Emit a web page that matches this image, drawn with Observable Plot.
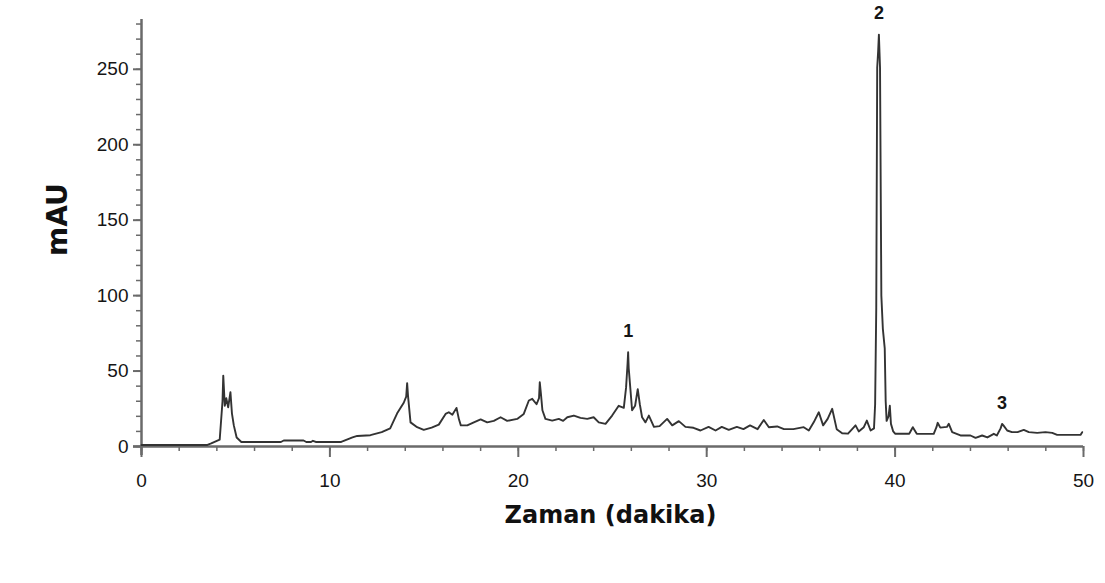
<!DOCTYPE html>
<html>
<head>
<meta charset="utf-8">
<script src="https://cdn.jsdelivr.net/npm/d3@7"></script>
<script src="https://cdn.jsdelivr.net/npm/@observablehq/plot@0.6"></script>
<style>
  html, body { margin: 0; padding: 0; background: #fff; }
</style>
</head>
<body>
<div id="chart"></div>
<script>
// Retention time (minutes)
const times = [0, 3.5, 3.7, 4.15, 4.3, 4.34, 4.42, 4.5, 4.6, 4.72, 4.8, 4.9, 5.05, 5.3, 7.4, 7.55, 8.6, 8.75, 9.0, 9.1, 9.25, 10.6, 10.9, 11.2, 11.45, 12.15, 12.75, 13.2, 13.57, 13.92, 14.05, 14.1, 14.15, 14.28, 14.63, 14.98, 15.4, 15.78, 16.14, 16.31, 16.5, 16.72, 16.85, 16.95, 17.29, 17.64, 18.0, 18.35, 18.7, 19.06, 19.41, 19.94, 20.29, 20.56, 20.74, 20.97, 21.1, 21.14, 21.2, 21.28, 21.44, 21.8, 22.15, 22.38, 22.6, 22.95, 23.3, 23.66, 24.0, 24.27, 24.63, 24.98, 25.33, 25.6, 25.72, 25.8, 25.83, 25.86, 25.95, 26.04, 26.2, 26.34, 26.45, 26.57, 26.75, 26.93, 27.2, 27.5, 27.9, 28.17, 28.52, 28.87, 29.3, 29.67, 30.1, 30.47, 30.8, 31.17, 31.6, 31.95, 32.3, 32.7, 33.03, 33.3, 33.74, 34.1, 34.6, 35.15, 35.42, 35.68, 35.95, 36.18, 36.42, 36.66, 36.9, 37.19, 37.5, 37.72, 37.9, 38.07, 38.34, 38.5, 38.7, 38.88, 38.94, 39.0, 39.05, 39.1, 39.14, 39.2, 39.27, 39.35, 39.45, 39.5, 39.55, 39.65, 39.72, 39.78, 39.9, 40.0, 40.75, 40.94, 41.15, 42.05, 42.2, 42.26, 42.4, 42.75, 42.85, 43.03, 43.47, 44.0, 44.27, 44.62, 44.9, 45.24, 45.4, 45.6, 45.68, 45.75, 45.95, 46.2, 46.5, 46.83, 47.1, 47.54, 47.98, 48.34, 48.6, 49.84, 49.93];
// Absorbance (mAU)
const absorbance = [1, 1, 2, 4.5, 30, 47, 27, 32, 26, 36, 22, 14, 6, 3, 3, 4, 4, 3, 3, 3.8, 3, 3, 4.5, 6, 7, 7.5, 9.5, 12, 22, 29, 33, 42, 33, 16, 12.8, 11, 12.5, 14.5, 21.6, 22.7, 21, 25.6, 18, 14, 14, 16, 18, 16, 17, 19.4, 17, 18.3, 21.6, 30.5, 31.6, 28, 32, 42.6, 35, 24, 18.3, 17.2, 18.3, 17, 19.4, 20.5, 19, 18.3, 19.4, 16, 15, 20.5, 27, 25.6, 39, 55, 62.5, 52, 38, 24, 27, 38, 28, 19.4, 16, 20.5, 13, 13.5, 18.3, 14, 16.8, 13, 12.4, 10.6, 13, 10.6, 13, 11, 13, 11.5, 14, 11.5, 17.6, 12.8, 13.3, 11.5, 11.5, 12.8, 10.6, 16, 22.7, 14, 18.3, 25, 11.5, 8.8, 8.5, 11.5, 14, 10, 12.8, 17.2, 10.6, 12, 28, 92, 251, 262, 273, 251, 100, 78, 65, 30, 17, 20, 27, 15, 10, 8.5, 8.5, 12.8, 8.4, 8.4, 13, 15.7, 12.5, 13, 15, 9.5, 7.3, 7.3, 5.7, 7.3, 6, 8.4, 7.3, 12, 15, 14, 10.6, 9.5, 9.5, 11, 9.5, 9, 9.5, 9, 7.7, 7.7, 9.5];

// Labelled peaks
const peakLabels = ["1", "2", "3"];
const peakTimes = [25.83, 39.14, 45.68];
const peakValues = [62.5, 273, 15];

// Ticks
const xMajorTicks = [0, 10, 20, 30, 40, 50];
const xMinorTicks = [0, 2, 4, 6, 8, 10, 12, 14, 16, 18, 20, 22, 24, 26, 28, 30, 32, 34, 36, 38, 40, 42, 44, 46, 48, 50];
const yMajorTicks = [0, 50, 100, 150, 200, 250];
const yMinorTicks = [0, 10, 20, 30, 40, 50, 60, 70, 80, 90, 100, 110, 120, 130, 140, 150, 160, 170, 180, 190, 200, 210, 220, 230, 240, 250, 260, 270, 280];

const xTitle = "Zaman (dakika)";
const yTitle = "mAU";

const data = times.map((t, i) => ({t, v: absorbance[i]}));
const peaks = peakLabels.map((l, i) => ({label: l, t: peakTimes[i], v: peakValues[i]}));

const axisGray = "#6a6a6a";
const tickFont = "'Liberation Sans', Arial, sans-serif";

const chart = Plot.plot({
  width: 1105,
  height: 583,
  marginLeft: 141,
  marginRight: 22,
  marginTop: 19,
  marginBottom: 137,
  x: {domain: [0, 50]},
  y: {domain: [0, 283]},
  style: {background: "#fff", fontFamily: tickFont},
  marks: [
    // minor ticks
    Plot.axisX({ticks: xMinorTicks, tickSize: 5, tickFormat: () => "", stroke: axisGray, strokeWidth: 1.5, label: null}),
    Plot.axisY({ticks: yMinorTicks, tickSize: 5, tickFormat: () => "", stroke: axisGray, strokeWidth: 1.5, label: null}),
    // major ticks with labels
    Plot.axisX({ticks: xMajorTicks, tickSize: 11, tickPadding: 16, stroke: axisGray, strokeWidth: 2, fill: "#151515", fontSize: 19, label: null}),
    Plot.axisY({ticks: yMajorTicks, tickSize: 8, tickPadding: 5, stroke: axisGray, strokeWidth: 2, fill: "#151515", fontSize: 19, label: null}),
    // axis lines
    Plot.ruleX([0], {stroke: axisGray, strokeWidth: 2.5, insetBottom: -9}),
    Plot.ruleY([0], {stroke: axisGray, strokeWidth: 2.5, insetLeft: -8}),
    // chromatogram trace
    Plot.line(data, {x: "t", y: "v", stroke: "#333", strokeWidth: 1.9, strokeLinejoin: "round"}),
    // peak labels
    Plot.text(peaks, {x: "t", y: "v", text: "label", dy: -21, fontSize: 18, fontWeight: "bold", fill: "#151515"}),
    // axis titles
    Plot.text([xTitle], {frameAnchor: "bottom", dy: 76, dx: -2, fontSize: 24, fontWeight: "bold", fontFamily: "'DejaVu Sans', sans-serif", fill: "#111"}),
    Plot.text([yTitle], {frameAnchor: "left", rotate: -90, dx: -83, dy: 23, fontSize: 28, fontWeight: "bold", fontFamily: "'DejaVu Sans', sans-serif", fill: "#111"})
  ]
});

document.getElementById("chart").appendChild(chart);
</script>
</body>
</html>
